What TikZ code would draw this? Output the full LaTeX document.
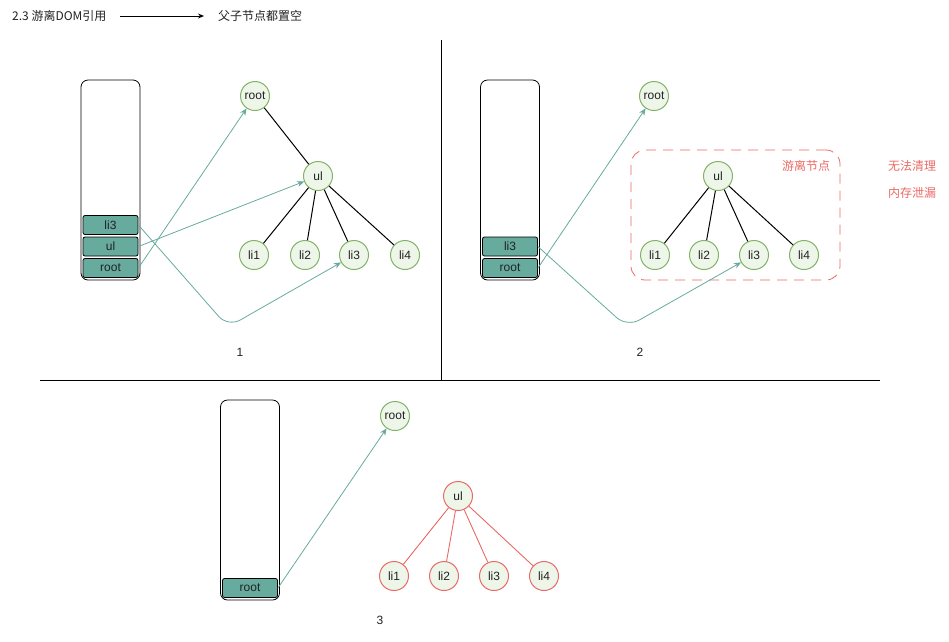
\documentclass[tikz,border=0pt]{standalone}
\usepackage{fontspec}
\setmainfont{Liberation Sans}
\newfontfamily\cjk{Noto Sans CJK SC}
\usetikzlibrary{arrows.meta}
\definecolor{teal1}{HTML}{67AB9F}
\definecolor{gstroke}{HTML}{82B366}
\definecolor{gfill}{HTML}{EEF6EA}
\definecolor{rstroke}{HTML}{EA6B66}
\definecolor{txt}{HTML}{222222}
\begin{document}
\begin{tikzpicture}[x=1pt,y=-1pt,
  font=\fontsize{12}{14}\selectfont,
  stack/.style={draw=black,line width=0.8pt,rounded corners=7pt,minimum width=59pt,minimum height=200pt,inner sep=0pt},
  item/.style={draw=black,fill=teal1,line width=0.8pt,rounded corners=2pt,minimum width=55pt,minimum height=19pt,inner sep=0pt,text=txt},
  gnode/.style={circle,draw=gstroke,fill=gfill,line width=1pt,minimum size=29pt,inner sep=0pt,text=txt},
  rnode/.style={gnode,draw=rstroke},
  edge/.style={draw=black,line width=1pt},
  redge/.style={draw=rstroke,line width=0.9pt},
  ref/.style={draw=teal1,line width=0.8pt,-{Stealth[length=7pt,width=6pt]},rounded corners=14pt},
  lbl/.style={text=txt},
  red/.style={text=rstroke,font=\cjk\fontsize{12}{14}\selectfont}
]
\useasboundingbox (0,0) rectangle (949,641);
\fill[white] (0,0) rectangle (949,641);

% header
\node[lbl,anchor=west,font=\cjk\fontsize{12}{14}\selectfont,inner sep=0pt] (title) at (12,16) {2.3 游离DOM引用};
\node[lbl,anchor=west,font=\cjk\fontsize{12}{14}\selectfont,inner sep=0pt] (title2) at (218,16) {父子节点都置空};
\coordinate (ha) at (120,16);
\coordinate (hb) at (204,16);
\draw[line width=1pt,-{Stealth[length=6pt,width=5pt]}] (ha) -- (hb);

% dividers
\coordinate (v1) at (441,40); \coordinate (v2) at (441,380);
\coordinate (h1) at (40,380); \coordinate (h2) at (880,380);
\draw[line width=0.8pt] (v1) -- (v2);
\draw[line width=0.8pt] (h1) -- (h2);

% ---------- panel 1 ----------
\node[stack] (s1) at (110.5,180) {};
\node[item] (s1li3) at (110.5,225) {li3};
\node[item] (s1ul) at (110.5,246.5) {ul};
\node[item] (s1root) at (110.5,268) {root};

\node[gnode] (r1) at (255,96) {root};
\node[gnode] (u1) at (318,176) {ul};
\node[gnode] (a1) at (254,255) {li1};
\node[gnode] (b1) at (305,255) {li2};
\node[gnode] (c1) at (354,255) {li3};
\node[gnode] (d1) at (405,255) {li4};
\draw[edge] (r1) -- (u1);
\foreach \n in {a1,b1,c1,d1} \draw[edge] (u1) -- (\n);

\draw[ref] (s1root.east) -- (r1);
\draw[ref] (s1ul.east) -- (u1);
\coordinate (k1) at (228,327);
\draw[ref] (s1li3.east) -- (k1) -- (c1);
\node[lbl] (n1) at (240,352) {1};

% ---------- panel 2 ----------
\node[stack] (s2) at (510,180) {};
\node[item] (s2li3) at (510,246.5) {li3};
\node[item] (s2root) at (510,268) {root};

\node[draw=rstroke,dash pattern=on 10pt off 7pt,line width=0.8pt,rounded corners=14pt,minimum width=209pt,minimum height=130pt] (box) at (735.5,215) {};
\node[red] (t1) at (806,166) {游离节点};
\node[red] (t2) at (912,166) {无法清理};
\node[red] (t3) at (912,193) {内存泄漏};

\node[gnode] (r2) at (654,96) {root};
\node[gnode] (u2) at (718,176) {ul};
\node[gnode] (a2) at (655,255) {li1};
\node[gnode] (b2) at (704,255) {li2};
\node[gnode] (c2) at (754,255) {li3};
\node[gnode] (d2) at (804,255) {li4};
\foreach \n in {a2,b2,c2,d2} \draw[edge] (u2) -- (\n);

\draw[ref] (s2root.east) -- (r2);
\coordinate (k2) at (627,327);
\draw[ref] (s2li3.east) -- (k2) -- (c2);
\node[lbl] (n2) at (640,352) {2};

% ---------- panel 3 ----------
\node[stack] (s3) at (250,500) {};
\node[item] (s3root) at (250,588) {root};

\node[gnode] (r3) at (395,416) {root};
\node[rnode] (u3) at (458,496) {ul};
\node[rnode] (a3) at (394,576) {li1};
\node[rnode] (b3) at (444,576) {li2};
\node[rnode] (c3) at (494,576) {li3};
\node[rnode] (d3) at (544,576) {li4};
\foreach \n in {a3,b3,c3,d3} \draw[redge] (u3) -- (\n);

\draw[ref] (s3root.east) -- (r3);
\node[lbl] (n3) at (380,620) {3};
\end{tikzpicture}
\end{document}
